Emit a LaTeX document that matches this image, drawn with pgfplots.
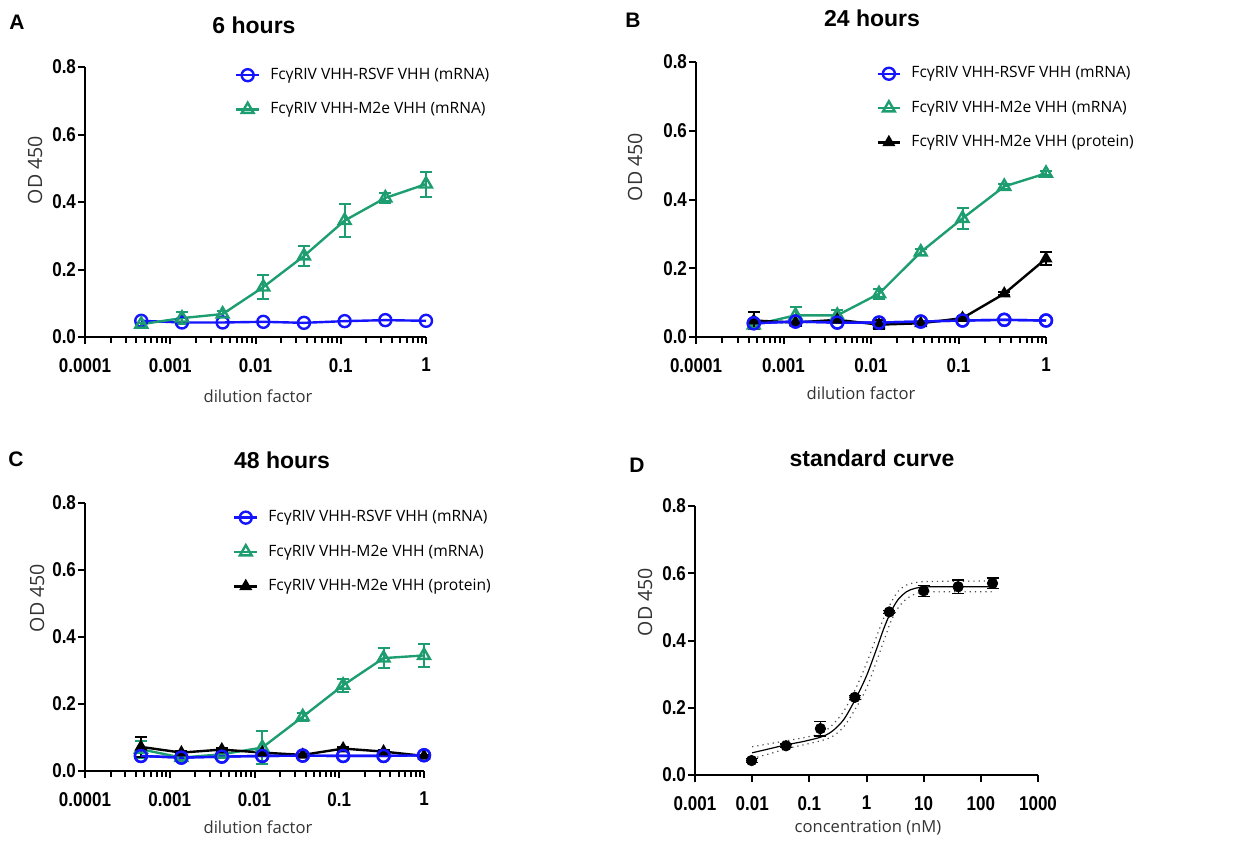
\documentclass[border=0pt]{standalone}
\usepackage{pgfplots}
\pgfplotsset{compat=1.18}
\usepackage{fontspec}
\setmainfont{Open Sans}
\newfontfamily\arial{Liberation Sans}
\newfontfamily\narrowbold[FakeStretch=0.85]{Liberation Sans Bold}

\definecolor{myblue}{RGB}{20,20,255}
\definecolor{mygreen}{RGB}{30,158,112}

\pgfplotsset{
  panel/.style={
    scale only axis, clip=false,
    axis x line*=bottom, axis y line*=left,
    axis line style={line width=1.2pt, -},
    tick style={line width=1pt, black},
    tick align=outside,
    major tick length=3.5pt,
    ymin=0, ymax=0.8,
    ytick={0,0.2,0.4,0.6,0.8},
    yticklabels={0.0,0.2,0.4,0.6,0.8},
    ticklabel style={font=\narrowbold\fontsize{10}{12}\selectfont},
    xticklabel style={yshift=-3.5pt},
    yticklabel style={xshift=2.5pt},
    /pgf/number format/assume math mode=true,
    error bars/y dir=both, error bars/y explicit,
    error bars/error bar style={line width=1pt},
    error bars/error mark options={line width=1pt, mark size=3pt, rotate=90},
    legend cell align=left,
    legend image code/.code={
      \draw[mark repeat=2,mark phase=2] plot coordinates {(0cm,0cm) (0.2cm,0cm) (0.4cm,0cm)};},
    legend style={draw=none, fill=none, anchor=north west, inner sep=0pt,
      font=\fontsize{7.8}{9}\selectfont, row sep=8pt,
      nodes={inner sep=1pt},
      /tikz/every odd column/.append style={column sep=4pt}},
  },
  dil/.style={xmin=1e-4, xmax=1,
    xtick={0.0001,0.001,0.01,0.1,1},
    xticklabels={0.0001,0.001,0.01,0.1,1},
    extra x ticks={2e-4,3e-4,4e-4,5e-4,6e-4,7e-4,8e-4,9e-4,
      2e-3,3e-3,4e-3,5e-3,6e-3,7e-3,8e-3,9e-3,
      0.02,0.03,0.04,0.05,0.06,0.07,0.08,0.09,
      0.2,0.3,0.4,0.5,0.6,0.7,0.8,0.9},
    extra x tick labels={},
    extra x tick style={major tick length=2.3pt, tick style={line width=0.9pt, black}}},
  sblue/.style={myblue, line width=1.2pt, mark=o, mark size=3pt,
    mark options={line width=1.2pt}},
  sgreen/.style={mygreen, line width=1.2pt, mark=triangle, mark size=3.4pt,
    mark options={line width=1.2pt}},
  sblack/.style={black, line width=1.2pt, mark=triangle*, mark size=2.6pt},
}

\begin{document}
\begin{tikzpicture}
\path (0,0) rectangle (617pt,421.5pt);

% ---------- A: 6 hours ----------
\begin{semilogxaxis}[panel, dil, at={(42.5pt,253pt)}, anchor=south west,
  width=170.5pt, height=135pt,
  legend style={at={(axis description cs:0.439,1.005)}}]
\addplot[sblue] coordinates {
  (0.000457,0.048) (0.001372,0.043) (0.004115,0.043) (0.01235,0.045)
  (0.03704,0.042) (0.1111,0.047) (0.3333,0.050) (1,0.048)};
\addlegendentry{FcγRIV VHH-RSVF VHH (mRNA)}
\addplot[sgreen] coordinates {
  (0.000457,0.038) +- (0,0.004)
  (0.001372,0.056) +- (0,0.018)
  (0.004115,0.068) +- (0,0.010)
  (0.01235,0.148) +- (0,0.035)
  (0.03704,0.240) +- (0,0.030)
  (0.1111,0.345) +- (0,0.048)
  (0.3333,0.412) +- (0,0.015)
  (1,0.453) +- (0,0.037)};
\addlegendentry{FcγRIV VHH-M2e VHH (mRNA)}
\end{semilogxaxis}

% ---------- B: 24 hours ----------
\begin{semilogxaxis}[panel, dil, at={(348pt,253pt)}, anchor=south west,
  width=175pt, height=137.5pt,
  legend style={at={(axis description cs:0.514,0.992)}}]
\addplot[sblue] coordinates {
  (0.000457,0.040) (0.001372,0.045) (0.004115,0.042) (0.01235,0.042)
  (0.03704,0.045) (0.1111,0.048) (0.3333,0.050) (1,0.048)};
\addlegendentry{FcγRIV VHH-RSVF VHH (mRNA)}
\addplot[sgreen] coordinates {
  (0.000457,0.035) +- (0,0.004)
  (0.001372,0.063) +- (0,0.025)
  (0.004115,0.063) +- (0,0.017)
  (0.01235,0.126) +- (0,0.014)
  (0.03704,0.247) +- (0,0.008)
  (0.1111,0.345) +- (0,0.030)
  (0.3333,0.438) +- (0,0.008)
  (1,0.476) +- (0,0.006)};
\addlegendentry{FcγRIV VHH-M2e VHH (mRNA)}
\addplot[sblack] coordinates {
  (0.000457,0.048) +- (0,0.024)
  (0.001372,0.042) +- (0,0.010)
  (0.004115,0.050) +- (0,0.005)
  (0.01235,0.036) +- (0,0.013)
  (0.03704,0.040) +- (0,0.005)
  (0.1111,0.055) +- (0,0.005)
  (0.3333,0.126) +- (0,0.005)
  (1,0.228) +- (0,0.018)};
\addlegendentry{FcγRIV VHH-M2e VHH (protein)}
\addplot[sblue, forget plot] coordinates {
  (0.000457,0.040) (0.001372,0.045) (0.004115,0.042) (0.01235,0.042)
  (0.03704,0.045) (0.1111,0.048) (0.3333,0.050) (1,0.048)};
\end{semilogxaxis}

% ---------- C: 48 hours ----------
\begin{semilogxaxis}[panel, dil, at={(42.5pt,36pt)}, anchor=south west,
  width=169.5pt, height=134pt,
  legend style={at={(axis description cs:0.436,0.981)}}]
\addplot[sblue] coordinates {
  (0.000457,0.045) (0.001372,0.040) (0.004115,0.043) (0.01235,0.045)
  (0.03704,0.046) (0.1111,0.045) (0.3333,0.045) (1,0.047)};
\addlegendentry{FcγRIV VHH-RSVF VHH (mRNA)}
\addplot[sgreen] coordinates {
  (0.000457,0.065) +- (0,0.025)
  (0.001372,0.040) +- (0,0.008)
  (0.004115,0.050) +- (0,0.008)
  (0.01235,0.070) +- (0,0.048)
  (0.03704,0.162) +- (0,0.012)
  (0.1111,0.256) +- (0,0.020)
  (0.3333,0.337) +- (0,0.030)
  (1,0.345) +- (0,0.035)};
\addlegendentry{FcγRIV VHH-M2e VHH (mRNA)}
\addplot[sblack] coordinates {
  (0.000457,0.072) +- (0,0.030)
  (0.001372,0.055) +- (0,0.004)
  (0.004115,0.064) +- (0,0.004)
  (0.01235,0.055) +- (0,0.004)
  (0.03704,0.048) +- (0,0.004)
  (0.1111,0.067) +- (0,0.004)
  (0.3333,0.058) +- (0,0.004)
  (1,0.045) +- (0,0.004)};
\addlegendentry{FcγRIV VHH-M2e VHH (protein)}
\addplot[sblue, forget plot] coordinates {
  (0.000457,0.045) (0.001372,0.040) (0.004115,0.043) (0.01235,0.045)
  (0.03704,0.046) (0.1111,0.045) (0.3333,0.045) (1,0.047)};
\end{semilogxaxis}

% ---------- D: standard curve ----------
\begin{semilogxaxis}[panel, at={(347.5pt,34pt)}, anchor=south west,
  width=171.5pt, height=134.5pt,
  xmin=0.001, xmax=1000, xminorticks=false,
  xtick={0.001,0.01,0.1,1,10,100,1000},
  xticklabels={0.001,0.01,0.1,1,10,100,1000},
  error bars/error bar style={line width=0.6pt},
  error bars/error mark options={line width=0.6pt, mark size=3pt, rotate=90}]
% fitted curve and confidence band
\addplot[black, line width=0.6pt, smooth, no markers, error bars/y dir=none] coordinates {
  (0.01,0.066) (0.02,0.078) (0.04,0.090) (0.08,0.100) (0.16,0.113)
  (0.25,0.130) (0.4,0.165) (0.65,0.228) (1.0,0.295) (1.5,0.375)
  (2.0,0.435) (2.6,0.481) (3.5,0.520) (5,0.545) (7,0.555) (10,0.559)
  (20,0.560) (170,0.560)};
\addplot[black!70, line width=0.6pt, dotted, smooth, no markers, error bars/y dir=none] coordinates {
  (0.01,0.084) (0.02,0.093) (0.04,0.102) (0.08,0.111) (0.16,0.124)
  (0.25,0.148) (0.4,0.190) (0.65,0.258) (1.0,0.332) (1.5,0.412)
  (2.0,0.467) (2.6,0.508) (3.5,0.545) (5,0.565) (7,0.572) (10,0.575)
  (20,0.576) (170,0.577)};
\addplot[black!70, line width=0.6pt, dotted, smooth, no markers, error bars/y dir=none] coordinates {
  (0.01,0.049) (0.02,0.063) (0.04,0.078) (0.08,0.090) (0.16,0.102)
  (0.25,0.114) (0.4,0.143) (0.65,0.199) (1.0,0.258) (1.5,0.338)
  (2.0,0.398) (2.6,0.452) (3.5,0.495) (5,0.524) (7,0.538) (10,0.544)
  (20,0.545) (170,0.545)};
\addplot[black, only marks, mark=*, mark size=2.6pt] coordinates {
  (0.00977,0.043) +- (0,0.005)
  (0.0391,0.087) +- (0,0.005)
  (0.156,0.138) +- (0,0.022)
  (0.625,0.231) +- (0,0.006)
  (2.5,0.485) +- (0,0.005)
  (10,0.548) +- (0,0.016)
  (40,0.560) +- (0,0.020)
  (160,0.570) +- (0,0.016)};
\end{semilogxaxis}

% ---------- titles, panel letters, axis labels ----------
\begin{scope}[font=\arial\bfseries\fontsize{11.5}{13}\selectfont]
\node at (127pt,409pt) {6 hours};
\node at (436pt,412.5pt) {24 hours};
\node at (141pt,191.5pt) {48 hours};
\node at (436pt,192.5pt) {standard curve};
\end{scope}
\begin{scope}[font=\arial\bfseries\fontsize{10.5}{12}\selectfont]
\node at (8.5pt,410.5pt) {A};
\node at (316.5pt,411.5pt) {B};
\node at (8pt,192pt) {C};
\node at (318.5pt,189pt) {D};
\end{scope}
\begin{scope}[font=\fontsize{8.3}{10}\selectfont, text=black!80]
\node at (129pt,223.5pt) {dilution factor};
\node at (430.5pt,225pt) {dilution factor};
\node at (129pt,8pt) {dilution factor};
\node at (434pt,7.5pt) {concentration (nM)};
\end{scope}
\begin{scope}[font=\fontsize{9.8}{11}\selectfont, text=black!80]
\node[rotate=90] at (17.5pt,336.5pt) {OD 450};
\node[rotate=90] at (317.5pt,338pt) {OD 450};
\node[rotate=90] at (18.5pt,122.5pt) {OD 450};
\node[rotate=90] at (322.5pt,120.5pt) {OD 450};
\end{scope}
\end{tikzpicture}
\end{document}
